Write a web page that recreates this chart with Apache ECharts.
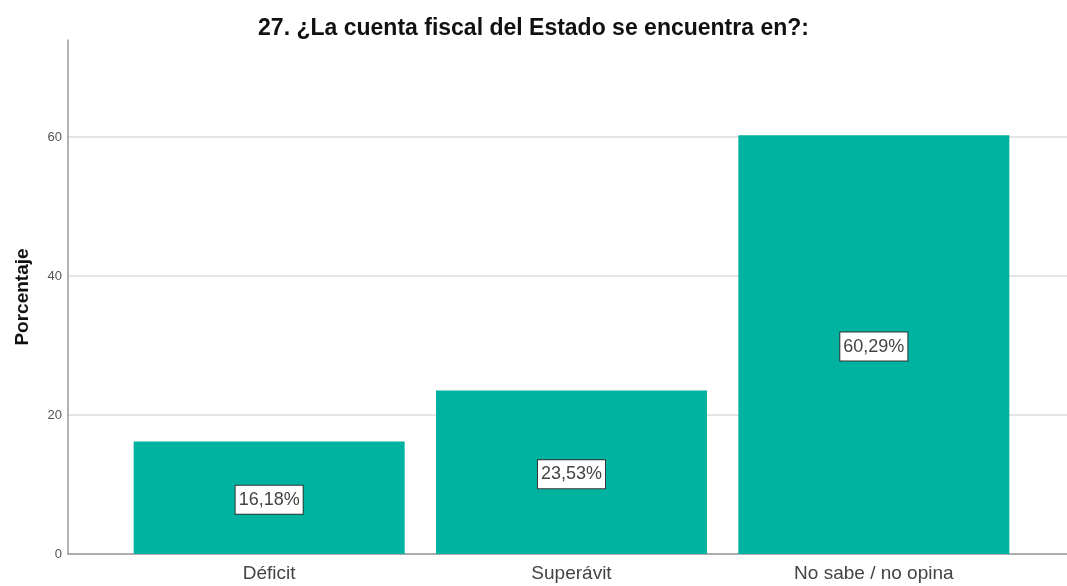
<!DOCTYPE html>
<html>
<head>
<meta charset="utf-8">
<script src="https://cdn.jsdelivr.net/npm/echarts@6/dist/echarts.min.js"></script>
<style>
  html, body { margin: 0; padding: 0; background: #fff; }
  #chart { width: 1067px; height: 586px; }
</style>
</head>
<body>
<div id="chart"></div>
<script>
// data
const categories = ['Déficit', 'Superávit', 'No sabe / no opina']
const percentages = [16.18, 23.53, 60.29]
const yTicks = [0, 20, 40, 60]

const chart = echarts.init(document.getElementById('chart'))

const fmt = (v) => v.toFixed(2).replace('.', ',') + '%'

const option = {
  animation: false,
  title: {
    text: '27. ¿La cuenta fiscal del Estado se encuentra en?:',
    left: 'center',
    top: 12,
    textStyle: {
      fontFamily: 'Liberation Sans, Arial, sans-serif',
      fontSize: 23,
      fontWeight: 'bold',
      color: '#111'
    }
  },
  // grid 0: full frame (axis line + gridlines), grid 1: bars inset
  grid: [
    { left: 68, right: 0, top: 40, bottom: 32 },
    { left: 118, right: 42, top: 40, bottom: 32 }
  ],
  xAxis: [
    {
      gridIndex: 0,
      type: 'category',
      data: categories,
      axisLine: { lineStyle: { color: '#999', width: 1.5 } },
      axisTick: { show: false },
      axisLabel: { show: false }
    },
    {
      gridIndex: 1,
      type: 'category',
      data: categories,
      axisLine: { show: false },
      axisTick: { show: false },
      axisLabel: {
        margin: 10,
        fontFamily: 'Liberation Sans, Arial, sans-serif',
        fontSize: 19,
        color: '#444'
      }
    }
  ],
  yAxis: [
    {
      gridIndex: 0,
      type: 'value',
      min: 0,
      max: 74,
      interval: 20,
      name: 'Porcentaje',
      nameLocation: 'middle',
      nameGap: 36,
      nameTextStyle: {
        fontFamily: 'Liberation Sans, Arial, sans-serif',
        fontSize: 19,
        fontWeight: 'bold',
        color: '#111'
      },
      axisLine: { show: true, lineStyle: { color: '#999', width: 1.5 } },
      axisTick: { show: false },
      axisLabel: {
        margin: 6,
        fontFamily: 'Liberation Sans, Arial, sans-serif',
        fontSize: 13,
        color: '#555',
        formatter: (v) => (yTicks.includes(v) ? String(v) : '')
      },
      splitLine: {
        show: true,
        showMaxLine: false,
        lineStyle: { color: '#dcdcdc', width: 1.5 }
      }
    },
    {
      gridIndex: 1,
      type: 'value',
      min: 0,
      max: 74,
      show: false
    }
  ],
  series: [
    {
      type: 'bar',
      xAxisIndex: 1,
      yAxisIndex: 1,
      data: percentages,
      barWidth: 271,
      itemStyle: { color: '#00b2a0' },
      label: {
        show: true,
        position: 'inside',
        offset: [0, 2],
        formatter: (p) => fmt(p.value),
        fontFamily: 'Liberation Sans, Arial, sans-serif',
        fontSize: 18,
        color: '#444',
        backgroundColor: '#fff',
        borderColor: '#333',
        borderWidth: 1,
        padding: [5, 3, 5, 3]
      }
    }
  ]
}

chart.setOption(option)
</script>
</body>
</html>
